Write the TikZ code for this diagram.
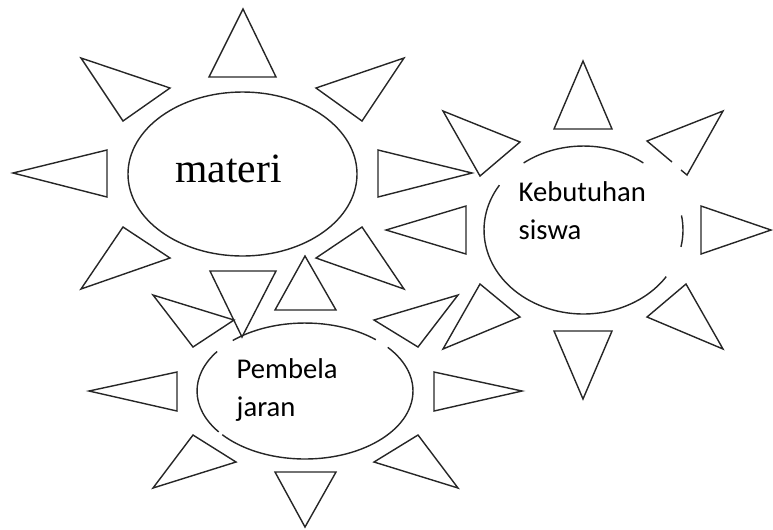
\documentclass[tikz,border=0pt]{standalone}
\usepackage{fontspec}
\setmainfont{Liberation Serif}
\newfontfamily\carlito{Carlito}
\usetikzlibrary{positioning}

\begin{document}
\begin{tikzpicture}[x=0.02cm, y=-0.02cm, line width=0.8pt, line join=miter,
    ray/.style={draw=black!85},
    rim/.style={draw=black!85},
    bigword/.style={font=\fontsize{23.7}{28}\selectfont, inner sep=0pt},
    smallword/.style={font=\carlito\fontsize{16.3}{21.3}\selectfont, align=left, inner sep=0pt}]
    \useasboundingbox (0,0) rectangle (773,529);

    \draw[rim] (242.5,174) ellipse [x radius=114.5, y radius=82];
    \node[bigword, anchor=base] (materi) at (228.5,182) {materi};

    \draw[ray] (243,9) -- (209,77) -- (276,77) -- cycle;
    \draw[ray] (81,58) -- (170,88) -- (123,121) -- cycle;
    \draw[ray] (404,58) -- (316,88) -- (362,121) -- cycle;
    \draw[ray] (13,173) -- (107,150) -- (107,197) -- cycle;
    \draw[ray] (472,173) -- (378,150) -- (378,197) -- cycle;
    \draw[ray] (123,227) -- (170,258) -- (81,289) -- cycle;
    \draw[ray] (362,227) -- (316,258) -- (404,289) -- cycle;
    \draw[ray] (210,271) -- (276,271) -- (242,337) -- cycle;

    \coordinate (siswa) at (583.5,230);
    \draw[rim] (siswa) ++(53:1.99cm and 1.68cm) arc[start angle=53, end angle=127, x radius=1.99cm, y radius=1.68cm];
    \draw[rim] (siswa) ++(147.7:1.99cm and 1.68cm) arc[start angle=147.7, end angle=326.3, x radius=1.99cm, y radius=1.68cm];
    \draw[rim] (siswa) ++(-11.6:1.99cm and 1.68cm) arc[start angle=-11.6, end angle=10, x radius=1.99cm, y radius=1.68cm];
    \node[smallword, anchor=base west] (kebutuhan) at (518,239) {Kebutuhan\\siswa};

    \draw[ray] (583,61) -- (554,129) -- (612,129) -- cycle;
    \draw[ray] (443,111) -- (520,142) -- (480,176) -- cycle;
    \draw[ray] (681,170) -- (687,175) -- (723,111) -- (647,141) -- (672,162);
    \draw[ray] (386,230) -- (466,206) -- (466,254) -- cycle;
    \draw[ray] (771,230) -- (701,206) -- (701,254) -- cycle;
    \draw[ray] (480,284) -- (520,317) -- (443,349) -- cycle;
    \draw[ray] (686,284) -- (647,317) -- (723,349) -- cycle;
    \draw[ray] (554,331) -- (612,331) -- (583,399) -- cycle;

    \coordinate (ajar) at (305,391);
    \draw[rim] (ajar) ++(49:2.16cm and 1.36cm) arc[start angle=49, end angle=132, x radius=2.16cm, y radius=1.36cm];
    \draw[rim] (ajar) ++(144.5:2.16cm and 1.36cm) arc[start angle=144.5, end angle=217, x radius=2.16cm, y radius=1.36cm];
    \draw[rim] (ajar) ++(220:2.16cm and 1.36cm) arc[start angle=220, end angle=400, x radius=2.16cm, y radius=1.36cm];
    \node[smallword, anchor=base west] (pembelajaran) at (236,416) {Pembela\\jaran};

    \draw[ray] (305,256) -- (275,310) -- (336,310) -- cycle;
    \draw[ray] (153,295) -- (234,320) -- (193,347) -- cycle;
    \draw[ray] (458,295) -- (374,320) -- (418,347) -- cycle;
    \draw[ray] (89,391) -- (177,372) -- (177,411) -- cycle;
    \draw[ray] (522,391) -- (434,372) -- (434,411) -- cycle;
    \draw[ray] (193,435) -- (236,462) -- (153,488) -- cycle;
    \draw[ray] (418,435) -- (374,462) -- (458,488) -- cycle;
    \draw[ray] (275,472) -- (336,472) -- (305,527) -- cycle;
\end{tikzpicture}
\end{document}
